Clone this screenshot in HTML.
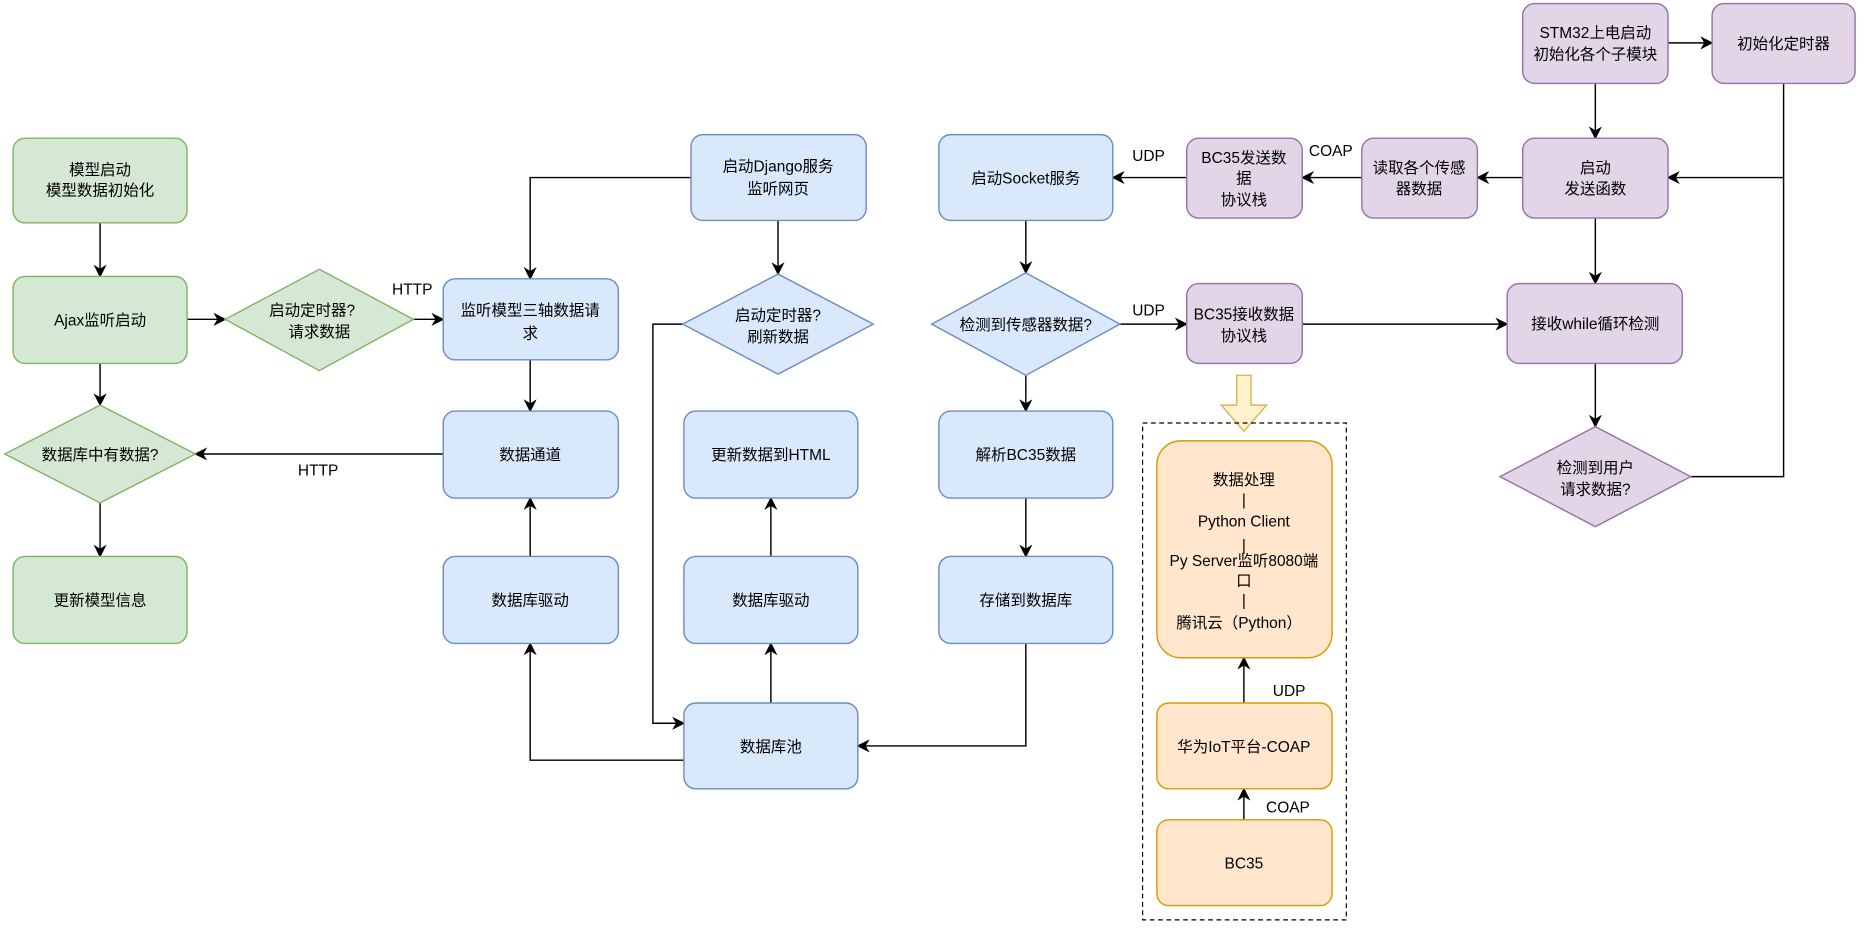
<!DOCTYPE html>
<html><head><meta charset="utf-8"><style>
html,body{margin:0;padding:0;background:#fff;}
svg{display:block;}
text{font-family:"Liberation Sans","Noto Sans CJK SC",sans-serif;font-size:13px;fill:#000;text-anchor:middle;}
.g{fill:#d5e8d4;stroke:#82b366;stroke-width:1.2}
.b{fill:#dae8fc;stroke:#6c8ebf;stroke-width:1.2}
.p{fill:#e1d5e7;stroke:#9673a6;stroke-width:1.2}
.o{fill:#ffe6cc;stroke:#d79b00;stroke-width:1.2}
.l{fill:none;stroke:#000;stroke-width:1.2}
.la{fill:none;stroke:#000;stroke-width:1.2;marker-end:url(#ar)}
</style></head><body>
<svg width="1867" height="930" viewBox="0 0 1567 780.5" preserveAspectRatio="none" xmlns="http://www.w3.org/2000/svg">
<defs><marker id="ar" viewBox="0 0 10 10" refX="9" refY="5" markerWidth="11" markerHeight="11" markerUnits="userSpaceOnUse" orient="auto"><path d="M0,0 L10,5 L0,10 L3,5 Z" fill="#000"/></marker></defs>

<path class="la" d="M84,187 V232"/>
<path class="la" d="M157,268 H189"/>
<path class="la" d="M347,268 H372"/>
<path class="la" d="M84,305 V340"/>
<path class="la" d="M84,422 V467"/>
<path class="la" d="M372,381 H164"/>
<path class="la" d="M580,149 H445 V234"/>
<path class="la" d="M653,185 V230"/>
<path class="la" d="M445,302 V345"/>
<path class="la" d="M445,467 V418"/>
<path class="la" d="M573,272 H548 V607 H574"/>
<path class="la" d="M574,638 H445 V540"/>
<path class="la" d="M647,590 V540"/>
<path class="la" d="M647,467 V418"/>
<path class="la" d="M861,185 V229"/>
<path class="la" d="M861,315 V345"/>
<path class="la" d="M861,418 V467"/>
<path class="la" d="M861,540 V626 H720"/>
<path class="la" d="M940,272 H996"/>
<path class="la" d="M1093,272 H1265"/>
<path class="la" d="M1339,70 V116"/>
<path class="la" d="M1400,36 H1437"/>
<path class="l" d="M1497,70 V400 H1419"/>
<path class="la" d="M1497,149 H1400"/>
<path class="la" d="M1278,149 H1240"/>
<path class="la" d="M1143,149 H1093"/>
<path class="la" d="M996,149 H934"/>
<path class="la" d="M1339,183 V238"/>
<path class="la" d="M1339,305 V358"/>
<path class="la" d="M1044,590 V552"/>
<path class="la" d="M1044,688 V662"/>

<text x="346" y="247">HTTP</text>
<text x="267" y="399">HTTP</text>
<text x="964" y="265">UDP</text>
<text x="964" y="135">UDP</text>
<text x="1117" y="131">COAP</text>
<text x="1082" y="584">UDP</text>
<text x="1081" y="682">COAP</text>

<rect class="g" x="11" y="116" width="146" height="71" rx="10"/>
<text x="84" y="147">模型启动</text><text x="84" y="164">模型数据初始化</text>
<rect class="g" x="11" y="232" width="146" height="73" rx="10"/>
<text x="84" y="273">Ajax监听启动</text>
<path class="g" d="M84,340 L164,381 L84,422 L4,381 Z"/>
<text x="84" y="386">数据库中有数据?</text>
<rect class="g" x="11" y="467" width="146" height="73" rx="10"/>
<text x="84" y="508">更新模型信息</text>
<path class="g" d="M268,226 L347,268 L268,311 L189,268 Z"/>
<text x="262" y="265">启动定时器?</text><text x="268" y="283">请求数据</text>

<rect class="b" x="580" y="113" width="147" height="72" rx="10"/>
<text x="653" y="144">启动Django服务</text><text x="653" y="163">监听网页</text>
<rect class="b" x="372" y="234" width="147" height="68" rx="10"/>
<text x="445" y="265">监听模型三轴数据请</text><text x="445" y="284">求</text>
<rect class="b" x="372" y="345" width="147" height="73" rx="10"/>
<text x="445" y="386">数据通道</text>
<rect class="b" x="372" y="467" width="147" height="73" rx="10"/>
<text x="445" y="508">数据库驱动</text>
<rect class="b" x="574" y="345" width="146" height="73" rx="10"/>
<text x="647" y="386">更新数据到HTML</text>
<rect class="b" x="574" y="467" width="146" height="73" rx="10"/>
<text x="647" y="508">数据库驱动</text>
<rect class="b" x="574" y="590" width="146" height="72" rx="10"/>
<text x="647" y="631">数据库池</text>
<path class="b" d="M653,230 L733,272 L653,314 L573,272 Z"/>
<text x="653" y="269">启动定时器?</text><text x="653" y="287">刷新数据</text>
<rect class="b" x="788" y="113" width="146" height="72" rx="10"/>
<text x="861" y="154">启动Socket服务</text>
<path class="b" d="M861,229 L940,272 L861,315 L782,272 Z"/>
<text x="861" y="277">检测到传感器数据?</text>
<rect class="b" x="788" y="345" width="146" height="73" rx="10"/>
<text x="861" y="386">解析BC35数据</text>
<rect class="b" x="788" y="467" width="146" height="73" rx="10"/>
<text x="861" y="508">存储到数据库</text>

<rect class="p" x="1278" y="3" width="122" height="67" rx="10"/>
<text x="1339" y="32">STM32上电启动</text><text x="1339" y="50">初始化各个子模块</text>
<rect class="p" x="1437" y="3" width="120" height="67" rx="10"/>
<text x="1497" y="41">初始化定时器</text>
<rect class="p" x="1278" y="116" width="122" height="67" rx="10"/>
<text x="1339" y="145">启动</text><text x="1339" y="163">发送函数</text>
<rect class="p" x="1143" y="116" width="97" height="67" rx="10"/>
<text x="1191" y="145">读取各个传感</text><text x="1191" y="163">器数据</text>
<rect class="p" x="996" y="116" width="97" height="67" rx="10"/>
<text x="1044" y="137">BC35发送数</text><text x="1044" y="154">据</text><text x="1044" y="172">协议栈</text>
<rect class="p" x="996" y="238" width="97" height="67" rx="10"/>
<text x="1044" y="268">BC35接收数据</text><text x="1044" y="286">协议栈</text>
<rect class="p" x="1265" y="238" width="147" height="67" rx="10"/>
<text x="1339" y="276">接收while循环检测</text>
<path class="p" d="M1339,358 L1419,400 L1339,442 L1259,400 Z"/>
<text x="1339" y="397">检测到用户</text><text x="1339" y="415">请求数据?</text>

<path d="M1038,315 H1050 V340 H1063 L1044,362 L1025,340 H1038 Z" fill="#fff2cc" stroke="#d6b656" stroke-width="1.2"/>
<rect x="959" y="355" width="171" height="417" fill="none" stroke="#000" stroke-width="1" stroke-dasharray="4,3"/>
<rect class="o" x="971" y="370" width="147" height="182" rx="20"/>
<text x="1044" y="407">数据处理</text>
<text x="1044" y="424">|</text>
<text x="1044" y="442">Python Client</text>
<text x="1044" y="462">|</text>
<text x="1044" y="475">Py Server监听8080端</text>
<text x="1044" y="492">口</text>
<text x="1044" y="508">|</text>
<text x="1040" y="527">腾讯云（Python）</text>
<rect class="o" x="971" y="590" width="147" height="72" rx="10"/>
<text x="1044" y="631">华为IoT平台-COAP</text>
<rect class="o" x="971" y="688" width="147" height="72" rx="10"/>
<text x="1044" y="729">BC35</text>
</svg>
</body></html>
